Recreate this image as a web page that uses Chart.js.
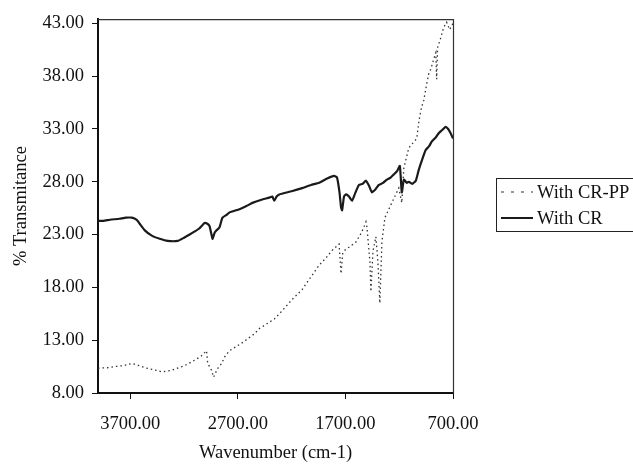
<!DOCTYPE html>
<html>
<head>
<meta charset="utf-8">
<script src="https://cdn.jsdelivr.net/npm/chart.js@4"></script>
<style>
  html, body { margin: 0; padding: 0; background: #fff; }
  #wrap { width: 633px; height: 465px; position: relative; }
</style>
</head>
<body>
<div id="wrap"><canvas id="c" width="633" height="465"></canvas></div>
<script>
// ---- data ----
const xTicks = [700, 1700, 2700, 3700];
const yTicks = [8, 13, 18, 23, 28, 33, 38, 43];
const xTitle = 'Wavenumber (cm-1)';
const yTitle = '% Transmitance';
const seriesLabels = ['With CR-PP', 'With CR'];

const crWave = [4000,3950,3889,3800,3740,3685,3640,3611,3565,3500,3426,3352,3259,3200,3148,3100,3056,3009,2980,2963,2945,2935,2915,2898,2870,2843,2800,2778,2685,2620,2565,2480,2407,2380,2361,2340,2315,2200,2102,2020,1944,1870,1806,1778,1755,1741,1731,1713,1694,1667,1639,1610,1574,1540,1509,1480,1454,1420,1389,1350,1315,1280,1250,1220,1194,1176,1157,1130,1111,1080,1046,1019,990,954,920,898,860,833,800,769,745,722,700];
const crVal = [24.3,24.3,24.4,24.5,24.6,24.6,24.4,24.0,23.4,22.9,22.6,22.4,22.4,22.7,23.0,23.3,23.6,24.1,24.0,23.8,23.0,22.6,23.2,23.4,23.7,24.6,24.9,25.1,25.4,25.7,26.0,26.3,26.5,26.6,26.2,26.6,26.8,27.1,27.4,27.7,27.9,28.3,28.55,28.4,27.0,25.6,25.3,26.6,26.8,26.6,26.2,26.9,27.7,27.8,28.1,27.6,27.0,27.3,27.7,27.9,28.2,28.4,28.7,29.0,29.5,27.0,28.2,27.9,28.0,27.8,28.1,29.1,30.0,31.0,31.4,31.8,32.2,32.6,32.9,33.2,33.0,32.6,32.1];

const ppWave = [4000,3900,3843,3760,3685,3620,3565,3480,3407,3315,3250,3194,3102,3040,2991,2981,2960,2944,2926,2889,2850,2824,2778,2667,2546,2500,2361,2287,2200,2102,2020,1944,1880,1824,1759,1741,1725,1700,1667,1602,1550,1509,1500,1472,1463,1444,1417,1398,1380,1361,1333,1269,1204,1176,1157,1111,1037,1020,1009,991,972,944,926,905,880,860,852,843,815,787,759,731,700];
const ppVal = [10.35,10.4,10.5,10.6,10.8,10.6,10.4,10.2,10.0,10.15,10.4,10.6,11.1,11.5,12.0,10.9,10.4,10.15,9.5,10.3,10.8,11.4,12.0,12.7,13.6,14.1,15.0,15.8,16.8,17.8,19.0,20.1,20.8,21.5,22.1,19.3,21.2,21.6,21.8,22.3,23.2,24.2,23.7,20.4,17.6,21.4,22.8,20.4,16.5,22.3,24.6,26.0,27.4,26.0,29.3,31.2,32.1,33.5,34.2,35.1,35.7,37.3,38.2,38.7,39.6,40.2,37.7,40.7,41.6,42.6,43.1,42.4,43.0];

const toPts = (xs, ys) => xs.map((x, i) => ({ x: x, y: ys[i] }));

const FONT = 'Liberation Serif, Times New Roman, serif';
const PP_DASH = [1.5, 3];
const LEGEND_DASH = [3, 7];

// draws the thin top/right frame and the boxed legend
const framePlugin = {
  id: 'frameLegend',
  afterDraw(chart) {
    const { ctx, chartArea: a } = chart;
    ctx.save();
    ctx.strokeStyle = '#333';
    ctx.lineWidth = 1.2;
    ctx.beginPath();
    ctx.moveTo(a.left, a.top + 0.5);
    ctx.lineTo(a.right + 0.5, a.top + 0.5);
    ctx.lineTo(a.right + 0.5, a.bottom);
    ctx.stroke();

    // legend
    const bx = a.right + 43, by = 178, bw = 160, bh = 53;
    ctx.strokeStyle = '#222';
    ctx.lineWidth = 1;
    ctx.strokeRect(bx + 0.5, by + 0.5, bw, bh);
    const ds = chart.data.datasets;
    const rows = [192, 218];
    ctx.font = '18.5px ' + FONT;
    ctx.fillStyle = '#111';
    ctx.textBaseline = 'middle';
    ds.forEach((d, i) => {
      const y = rows[i];
      ctx.beginPath();
      ctx.setLineDash(d.borderDash ? LEGEND_DASH : []);
      ctx.strokeStyle = d.borderColor;
      ctx.lineWidth = d.borderDash ? 1.2 : 2;
      ctx.moveTo(bx + 5, y);
      ctx.lineTo(bx + 37, y);
      ctx.stroke();
      ctx.setLineDash([]);
      ctx.fillText(d.label, bx + 41, y + 1);
    });
    ctx.restore();
  }
};

new Chart(document.getElementById('c'), {
  type: 'line',
  data: {
    datasets: [
      {
        label: seriesLabels[0],
        data: toPts(ppWave, ppVal),
        borderColor: '#333',
        borderWidth: 1.3,
        borderDash: PP_DASH,
        pointRadius: 0,
        tension: 0,
        fill: false
      },
      {
        label: seriesLabels[1],
        data: toPts(crWave, crVal),
        borderColor: '#1a1a1a',
        borderWidth: 2.2,
        pointRadius: 0,
        tension: 0.15,
        fill: false
      }
    ]
  },
  options: {
    responsive: false,
    animation: false,
    layout: { padding: { left: 0, right: 180, top: 15, bottom: 0 } },
    plugins: { legend: { display: false }, tooltip: { enabled: false } },
    scales: {
      x: {
        type: 'linear',
        reverse: true,
        min: 700,
        max: 4000,
        afterBuildTicks: (s) => { s.ticks = xTicks.map(v => ({ value: v })); },
        afterFit: (s) => { s.height = 72; },
        ticks: {
          color: '#111',
          font: { family: FONT, size: 18.5 },
          padding: 14,
          maxRotation: 0,
          autoSkip: false,
          callback: (v) => Number(v).toFixed(2)
        },
        grid: { display: true, drawOnChartArea: false, drawTicks: true, tickLength: 6, color: '#111', lineWidth: 1 },
        border: { display: true, color: '#111', width: 2 },
        title: { display: true, text: xTitle, color: '#111', font: { family: FONT, size: 18.5 }, padding: { top: 2, bottom: 1 } }
      },
      y: {
        type: 'linear',
        min: 8,
        max: 43.4,
        afterBuildTicks: (s) => { s.ticks = yTicks.map(v => ({ value: v })); },
        afterFit: (s) => { s.width = 98; },
        ticks: {
          color: '#111',
          font: { family: FONT, size: 18.5 },
          padding: 8,
          autoSkip: false,
          callback: (v) => Number(v).toFixed(2)
        },
        grid: { display: true, drawOnChartArea: false, drawTicks: true, tickLength: 6, color: '#111', lineWidth: 1 },
        border: { display: true, color: '#111', width: 2 },
        title: { display: true, text: yTitle, color: '#111', font: { family: FONT, size: 18.5 }, padding: { top: 10, bottom: 9 } }
      }
    }
  },
  plugins: [framePlugin]
});
</script>
</body>
</html>
